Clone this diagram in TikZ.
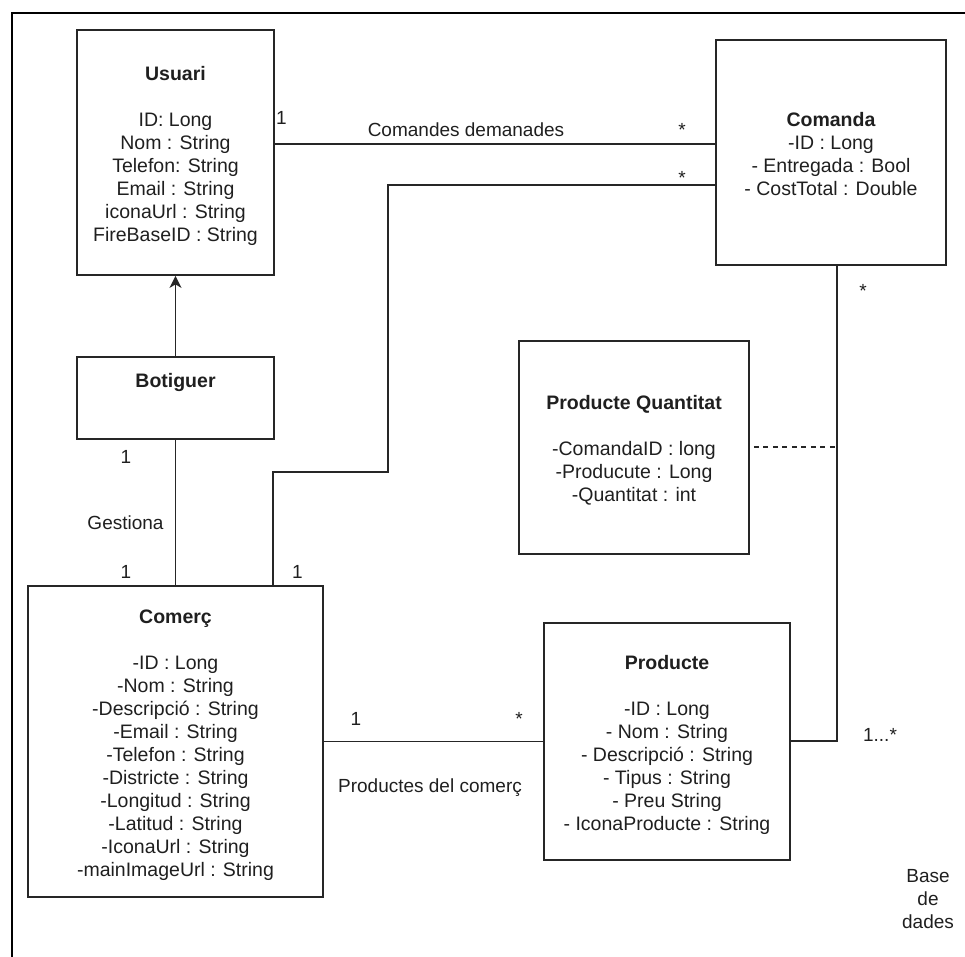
\documentclass[tikz,border=0pt]{standalone}
\usepackage{fontspec}
\setmainfont{Liberation Sans}
\usetikzlibrary{arrows.meta}
% struts that give every class box the same text block extent
\newcommand\boxtopstrut{\rule{0pt}{22pt}}
\newcommand\boxbotstrut{\rule[-6pt]{0pt}{6pt}}
\begin{document}
\begin{tikzpicture}[x=1pt,y=-1pt,
  cls/.style={draw=black!85, line width=1.8pt, align=center, inner sep=0pt,
              font=\fontsize{19.5}{23}\selectfont, text=black!88},
  wire/.style={draw=black!85, line width=1.7pt},
  frame/.style={draw=black, line width=1.8pt},
  lbl/.style={anchor=base, inner sep=0pt, font=\fontsize{19}{23}\selectfont, text=black!88},
]
\useasboundingbox (0,0) rectangle (965,956);

% outer frame (left and top edges)
\coordinate (f1) at (12,970);
\coordinate (f2) at (12,13);
\coordinate (f3) at (975,13);
\draw[frame] (f1) -- (f2) -- (f3);

% classes
\node[cls, minimum width=197pt, minimum height=245pt] (usu) at (175.5,152.5)
  {\boxtopstrut\textbf{Usuari}\\[23pt]ID: Long\\Nom : String\\Telefon: String\\Email : String\\iconaUrl : String\\FireBaseID : String\boxbotstrut};

\node[cls, minimum width=230pt, minimum height=225pt] (com) at (831,152.5)
  {\boxtopstrut\textbf{Comanda}\\-ID : Long\\- Entregada : Bool\\- CostTotal : Double\boxbotstrut};

\node[cls, minimum width=197pt, minimum height=82pt] (bot) at (175.5,398) {};
\node[lbl, font=\fontsize{19.5}{23}\selectfont\bfseries] (botT) at (175.5,387) {Botiguer};

\node[cls, minimum width=230pt, minimum height=213pt] (pq) at (634,447.5)
  {\boxtopstrut\textbf{Producte Quantitat}\\[23pt]-ComandaID : long\\-Producute : Long\\-Quantitat : int\boxbotstrut};

\node[cls, minimum width=295pt, minimum height=311pt] (cmr) at (175.5,741.5)
  {\boxtopstrut\textbf{Comerç}\\[23pt]-ID : Long\\-Nom : String\\-Descripció : String\\-Email : String\\-Telefon : String\\-Districte : String\\-Longitud : String\\-Latitud : String\\-IconaUrl : String\\-mainImageUrl : String\boxbotstrut};

\node[cls, minimum width=246pt, minimum height=237pt] (prd) at (667,741.5)
  {\boxtopstrut\textbf{Producte}\\[23pt]-ID : Long\\- Nom : String\\- Descripció : String\\- Tipus : String\\- Preu String\\- IconaProducte : String\boxbotstrut};

% routing points
\coordinate (ka) at (0,144);
\coordinate (k1) at (388,185);
\coordinate (k2) at (388,472);
\coordinate (k3) at (273,472);
\coordinate (k4) at (837,741);
\coordinate (kd) at (837,447);

% associations
\draw[wire] (usu.east |- ka) -- (com.west |- ka);
\draw[wire] (com.west |- k1) -- (k1) -- (k2) -- (k3) -- (cmr.north -| k3);
\draw[wire] (com.south -| k4) -- (k4) -- (prd.east |- k4);
\draw[wire, dash pattern=on 5pt off 4.5pt, shorten <=4pt] (pq.east |- kd) -- (kd);
\draw[wire, -{Stealth[length=12pt,width=12pt,inset=3.5pt]}] (bot.north) -- (usu.south);
\draw[wire] (bot.south) -- (cmr.north);
\draw[wire] (cmr.east) -- (prd.west);

% multiplicities and role names
\node[lbl] (m1) at (281.5,124) {1};
\node[lbl] (cd) at (466,136) {Comandes demanades};
\node[lbl] (m2) at (682,136) {*};
\node[lbl] (m3) at (682,184) {*};
\node[lbl] (m4) at (863,297) {*};
\node[lbl] (m5) at (126,463) {1};
\node[lbl] (ges) at (125.5,529) {Gestiona};
\node[lbl] (m6) at (126,578) {1};
\node[lbl] (m7) at (297.5,578) {1};
\node[lbl] (m8) at (356,725) {1};
\node[lbl] (m9) at (519,725) {*};
\node[lbl] (pdc) at (430,792) {Productes del comerç};
\node[lbl] (m10) at (880,741) {1...*};
\node[lbl, anchor=north, align=center] (bdd) at (928,869) {Base\\de\\dades};
\end{tikzpicture}
\end{document}
